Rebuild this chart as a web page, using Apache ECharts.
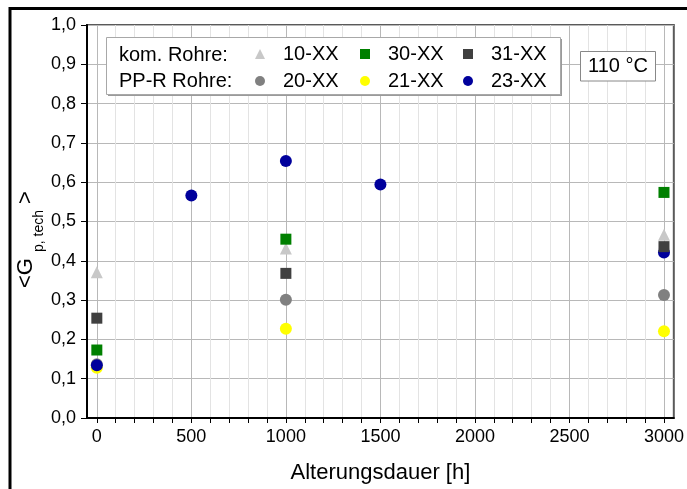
<!DOCTYPE html>
<html><head><meta charset="utf-8">
<script src="https://cdn.jsdelivr.net/npm/echarts@6/dist/echarts.min.js"></script>
<style>html,body{margin:0;padding:0;background:#fff}#c{width:687px;height:489px}</style>
</head><body><div id="c"></div>
<script>
// ---- data ----
const xMajorTicks = [0, 500, 1000, 1500, 2000, 2500, 3000];
const xAllTicks = [0, 100, 200, 300, 400, 500, 600, 700, 800, 900, 1000, 1100, 1200, 1300, 1400, 1500,
  1600, 1700, 1800, 1900, 2000, 2100, 2200, 2300, 2400, 2500, 2600, 2700, 2800, 2900, 3000];
const yTickLabels = ['0,0','0,1','0,2','0,3','0,4','0,5','0,6','0,7','0,8','0,9','1,0'];
const seriesNames = ['10-XX', '30-XX', '31-XX', '20-XX', '21-XX', '23-XX'];
const rowLabels = ['kom. Rohre:', 'PP-R Rohre:'];
const tempLabel = '110 °C';
const xTitle = 'Alterungsdauer [h]';

const d10 = [[0, 0.371], [1000, 0.431], [3000, 0.466]];
const d30 = [[0, 0.173], [1000, 0.455], [3000, 0.574]];
const d31 = [[0, 0.254], [1000, 0.368], [3000, 0.436]];
const d20 = [[0, 0.137], [1000, 0.301], [3000, 0.313]];
const d21 = [[0, 0.128], [1000, 0.227], [3000, 0.221]];
const d23 = [[0, 0.134], [500, 0.566], [1000, 0.654], [1500, 0.594], [3000, 0.421]];

const FF = '"Liberation Sans", Arial, sans-serif';
const chart = echarts.init(document.getElementById('c'), null, {renderer: 'canvas'});

function legendAt(name, icon, left, top) {
  return {
    data: [{name: name, icon: icon}],
    left: left, top: top, padding: 0, orient: 'horizontal', z: 20,
    itemWidth: 10, itemHeight: 10, selectedMode: false,
    textStyle: {fontFamily: FF, fontSize: 20, color: '#000', padding: [0, 0, 0, 13]}
  };
}
const row1 = 44, row2 = 71;

const option = {
  animation: false,
  backgroundColor: '#fff',
  grid: {left: 87, top: 25, right: 13, bottom: 71, show: true, borderColor: '#5a5a5a', borderWidth: 2, backgroundColor: 'transparent'},
  xAxis: [
    {
      type: 'value', min: -52, max: 3052, position: 'bottom',
      axisLine: {show: true, onZero: false, lineStyle: {color: '#000', width: 2}},
      axisTick: {show: true, customValues: xAllTicks, length: 5, lineStyle: {color: '#000', width: 1}},
      axisLabel: {customValues: xMajorTicks, fontFamily: FF, fontSize: 18, color: '#000', margin: 10,
        formatter: function (v) { return String(v); }},
      splitLine: {show: true, lineStyle: {color: '#e3e3e3', width: 1}},
      name: xTitle, nameLocation: 'middle', nameGap: 44,
      nameTextStyle: {fontFamily: FF, fontSize: 22, color: '#000'}
    },
    {
      type: 'value', min: -52, max: 3052, position: 'top',
      axisLine: {show: false, onZero: false}, axisTick: {show: false, customValues: xMajorTicks},
      axisLabel: {show: false, customValues: xMajorTicks},
      splitLine: {show: true, lineStyle: {color: '#b8b8b8', width: 1}}
    }
  ],
  yAxis: {
    type: 'value', min: 0, max: 1, interval: 0.1,
    axisLine: {show: true, onZero: false, lineStyle: {color: '#000', width: 2}},
    axisTick: {show: true, length: 6, lineStyle: {color: '#000'}},
    axisLabel: {fontFamily: FF, fontSize: 18, color: '#000', margin: 11,
      formatter: function (v) { return yTickLabels[Math.round(v * 10)]; }},
    splitLine: {show: true, lineStyle: {color: '#b8b8b8', width: 1}}
  },
  legend: [
    legendAt(seriesNames[0], 'triangle', 255, row1),
    legendAt(seriesNames[1], 'rect', 360, row1),
    legendAt(seriesNames[2], 'rect', 463, row1),
    legendAt(seriesNames[3], 'circle', 255, row2),
    legendAt(seriesNames[4], 'circle', 360, row2),
    legendAt(seriesNames[5], 'circle', 463, row2)
  ],
  series: [
    {name: seriesNames[3], type: 'scatter', data: d20, symbol: 'circle', symbolSize: 12, itemStyle: {color: '#808080', opacity: 1}},
    {name: seriesNames[4], type: 'scatter', data: d21, symbol: 'circle', symbolSize: 12, itemStyle: {color: '#ffff00', opacity: 1}},
    {name: seriesNames[5], type: 'scatter', data: d23, symbol: 'circle', symbolSize: 12, itemStyle: {color: '#00009c', opacity: 1}},
    {name: seriesNames[0], type: 'scatter', data: d10, symbol: 'triangle', symbolSize: 12, itemStyle: {color: '#c8c8c8', opacity: 1}},
    {name: seriesNames[1], type: 'scatter', data: d30, symbol: 'rect', symbolSize: 11, itemStyle: {color: '#008000', opacity: 1}},
    {name: seriesNames[2], type: 'scatter', data: d31, symbol: 'rect', symbolSize: 11, itemStyle: {color: '#404040', opacity: 1}}
  ],
  graphic: [
    // outer frame
    {type: 'line', shape: {x1: 10, y1: 8.5, x2: 687, y2: 8.5}, style: {stroke: '#000', lineWidth: 3}, z: 100},
    {type: 'line', shape: {x1: 10, y1: 7, x2: 10, y2: 489}, style: {stroke: '#000', lineWidth: 3}, z: 100},
    // legend box with shadow
    {type: 'rect', shape: {x: 108, y: 39, width: 454, height: 57}, style: {fill: '#9a9a9a'}, z: 5},
    {type: 'rect', shape: {x: 106.5, y: 37.5, width: 454, height: 57}, style: {fill: '#fff', stroke: '#a8a8a8', lineWidth: 1}, z: 6},
    {type: 'text', x: 119, y: 55, style: {text: rowLabels[0], font: '20px ' + FF, fill: '#000', verticalAlign: 'middle', align: 'left'}, z: 7},
    {type: 'text', x: 119, y: 81, style: {text: rowLabels[1], font: '20px ' + FF, fill: '#000', verticalAlign: 'middle', align: 'left'}, z: 7},
    // temperature box
    {type: 'rect', shape: {x: 580.5, y: 51.5, width: 75, height: 29.5}, style: {fill: '#fff', stroke: '#888', lineWidth: 1}, z: 6},
    {type: 'text', x: 618, y: 66.5, style: {text: tempLabel, font: '20px ' + FF, fill: '#000', verticalAlign: 'middle', align: 'center'}, z: 7},
    // y axis name  <G_{p, tech}>
    {type: 'group', x: 26, y: 288, rotation: Math.PI / 2, z: 7, children: [
      {type: 'text', x: 0, y: 0, style: {text: '<G', font: '22px ' + FF, fill: '#000', verticalAlign: 'middle', align: 'left'}},
      {type: 'text', x: 36, y: 13, style: {text: 'p, tech', font: '14px ' + FF, fill: '#000', verticalAlign: 'middle', align: 'left'}},
      {type: 'text', x: 84, y: 0, style: {text: '>', font: '22px ' + FF, fill: '#000', verticalAlign: 'middle', align: 'left'}}
    ]}
  ]
};
chart.setOption(option);
</script>
</body></html>
